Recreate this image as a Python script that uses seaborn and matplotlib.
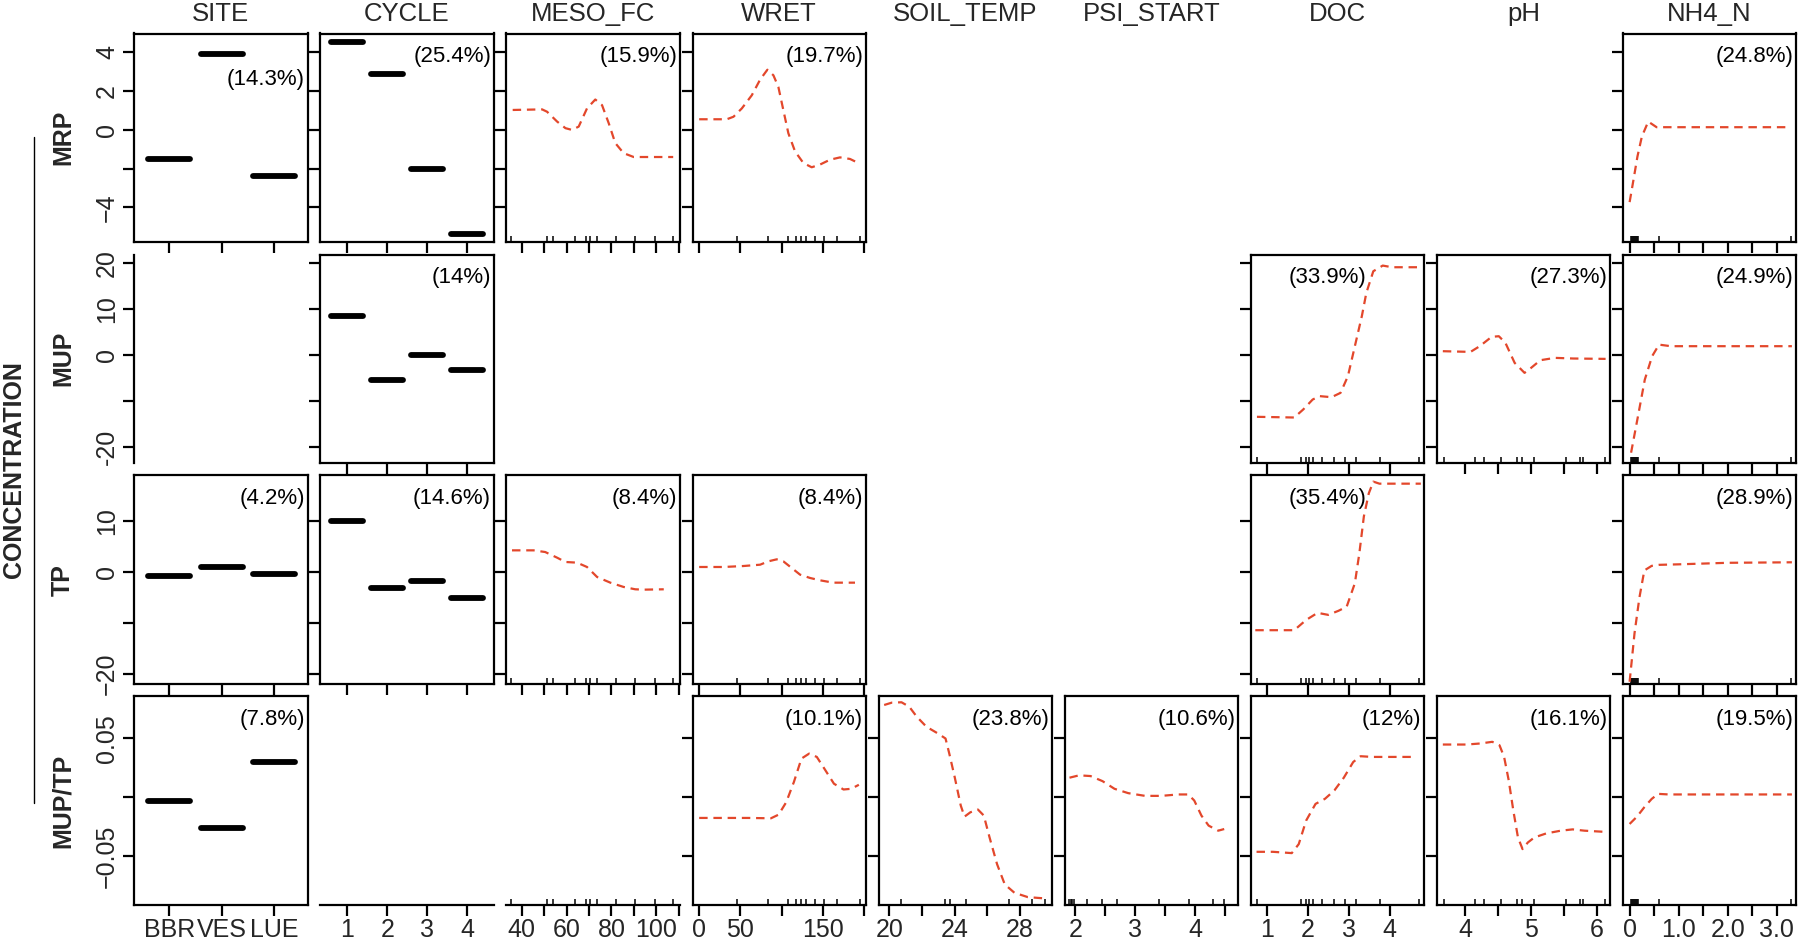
import matplotlib
matplotlib.use("Agg")
import matplotlib.pyplot as plt
from matplotlib.lines import Line2D
import seaborn as sns

sns.set_theme(style="white")
plt.rcParams["font.family"] = ["Liberation Sans", "DejaVu Sans"]

# ── Layout names ──────────────────────────────────────────────────────────────
ROWS = ["MRP", "MUP", "TP", "MUP/TP"]
COLS = ["SITE", "CYCLE", "MESO_FC", "WRET", "SOIL_TEMP", "PSI_START", "DOC", "pH", "NH4_N"]

# ── x axes per column ─────────────────────────────────────────────────────────
SITE_TICKS, SITE_LABELS = [1, 2, 3], ["BBR", "VES", "LUE"]
CYCLE_TICKS, CYCLE_LABELS = [1, 2, 3, 4], ["1", "2", "3", "4"]
MESO_TICKS = [40, 50, 60, 70, 80, 90, 100, 110]
MESO_LABELS = ["40", "", "60", "", "80", "", "100", ""]
WRET_TICKS, WRET_LABELS = [0, 50, 100, 150, 200], ["0", "50", "", "150", ""]
SOIL_TICKS, SOIL_LABELS = [20, 22, 24, 26, 28], ["20", "", "24", "", "28"]
PSI_TICKS, PSI_LABELS = [2, 2.5, 3, 3.5, 4, 4.5], ["2", "", "3", "", "4", ""]
DOC_TICKS, DOC_LABELS = [1, 2, 3, 4], ["1", "2", "3", "4"]
PH_TICKS, PH_LABELS = [4, 4.5, 5, 5.5, 6], ["4", "", "5", "", "6"]
NH4_TICKS = [0, 0.5, 1, 1.5, 2, 2.5, 3]
NH4_LABELS = ["0", "", "1.0", "", "2.0", "", "3.0"]

# deciles of the predictors (rug)
MESO_RUG = [35.3, 51.3, 54, 63.9, 68.8, 70.6, 73.5, 82.1, 90.6, 99.5, 107.5]
WRET_RUG = [0, 46, 83, 108, 117, 123, 129, 140, 151, 167, 195]
SOIL_RUG = [20, 20.7, 22, 23.4, 23.7, 24, 24.7, 26, 27.3, 28.7, 29.5]
PSI_RUG = [1.9, 1.92, 1.95, 1.98, 2.2, 2.45, 2.7, 3.4, 3.9, 4.3, 4.48]
DOC_RUG = [0.75, 1.84, 1.95, 2.03, 2.12, 2.35, 2.63, 2.92, 3.17, 3.77, 4.72]
PH_RUG = [3.68, 4.15, 4.29, 4.54, 4.78, 4.86, 5.04, 5.53, 5.74, 5.79, 6.12]
NH4_RUG = [0.0, 0.02, 0.04, 0.06, 0.08, 0.1, 0.12, 0.15, 0.18, 0.6, 3.3]

# ── y axes per row ────────────────────────────────────────────────────────────
MRP_TICKS, MRP_LABELS = [-4, -2, 0, 2, 4], ["\u22124", "", "0", "2", "4"]
MUP_TICKS, MUP_LABELS = [-20, -10, 0, 10, 20], ["-20", "", "0", "10", "20"]
TP_TICKS, TP_LABELS = [-20, -10, 0, 10], ["\u221220", "", "0", "10"]
RATIO_TICKS, RATIO_LABELS = [-0.05, 0, 0.05], ["\u22120.05", "", "0.05"]

# ── partial dependence values ─────────────────────────────────────────────────
MRP_SITE = [-1.5, 3.9, -2.4]
MRP_CYCLE = [4.54, 2.87, -2.03, -5.4]
MRP_MESO_X = [36.0, 49.1, 51.3, 55.8, 59.5, 62.4, 65.4, 69.1, 72.8, 75.8, 78.8, 81.7, 85.4, 89.9, 107.5]
MRP_MESO_Y = [1.03, 1.06, 0.94, 0.43, 0.09, 0.0, 0.17, 1.11, 1.57, 1.28, 0.34, -0.68, -1.2, -1.4, -1.4]
MRP_WRET_X = [0, 33.5, 41.6, 51.7, 63.8, 73.9, 82.7, 90, 96, 102, 108.1, 116.2, 126.3, 136.4,
              146.5, 158.6, 170.7, 182.8, 193]
MRP_WRET_Y = [0.55, 0.55, 0.68, 1.11, 1.79, 2.6, 3.11, 2.82, 2.22, 1.03, -0.17, -1.11, -1.71, -1.93,
              -1.79, -1.54, -1.42, -1.5, -1.71]
MRP_NH4_X = [0, 0.08, 0.16, 0.25, 0.38, 0.55, 0.76, 3.28]
MRP_NH4_Y = [-3.73, -2.56, -1.37, -0.34, 0.43, 0.14, 0.14, 0.14]

MUP_CYCLE = [8.6, -5.5, 0.0, -3.2]
MUP_DOC_X = [0.76, 1.67, 1.89, 2.12, 2.29, 2.58, 2.80, 2.98, 3.15, 3.32, 3.43, 3.60, 3.83, 4.06, 4.74]
MUP_DOC_Y = [-13.4, -13.55, -11.8, -9.64, -8.9, -9.13, -8.19, -4.57, 1.96, 8.48, 13.55, 18.26, 19.49,
             19.13, 19.13]
MUP_PH_X = [3.66, 4.08, 4.22, 4.40, 4.51, 4.61, 4.75, 4.90, 5.0, 5.14, 5.36, 5.64, 6.13]
MUP_PH_Y = [0.87, 0.72, 1.96, 3.99, 4.13, 2.68, -1.67, -3.84, -2.75, -1.09, -0.58, -0.72, -0.8]
MUP_NH4_X = [0.03, 0.17, 0.31, 0.46, 0.6, 0.84, 3.31]
MUP_NH4_Y = [-21.2, -13.3, -5.3, -0.2, 2.3, 1.96, 1.96]

TP_SITE = [-0.75, 0.96, -0.4]
TP_CYCLE = [10.0, -3.1, -1.76, -5.15]
TP_MESO_X = [35.7, 45.3, 50.5, 55.8, 59.5, 64.7, 69.1, 73.6, 79.5, 85.4, 90.6, 94.3, 103.3]
TP_MESO_Y = [4.24, 4.24, 3.91, 2.8, 1.96, 1.83, 0.98, -0.98, -2.09, -2.93, -3.39, -3.46, -3.39]
TP_WRET_X = [0, 29.5, 53.6, 73.9, 83.9, 94, 102, 112.2, 122.3, 134.4, 146.5, 162.6, 188.9]
TP_WRET_Y = [0.98, 0.98, 1.17, 1.43, 2.09, 2.48, 2.09, 0.78, -0.52, -1.17, -1.63, -2.09, -2.09]
TP_DOC_X = [0.72, 1.67, 1.96, 2.24, 2.5, 2.75, 2.95, 3.15, 3.26, 3.37, 3.49, 3.6, 3.75, 4.76]
TP_DOC_Y = [-11.4, -11.4, -9.4, -8.0, -8.4, -7.6, -6.8, -2.2, 3.7, 10.9, 15.4, 17.7, 17.3, 17.3]
TP_NH4_X = [0.0, 0.1, 0.2, 0.3, 0.45, 0.6, 1.0, 2.0, 3.31]
TP_NH4_Y = [-21.5, -12, -5, 0.3, 1.2, 1.4, 1.5, 1.8, 1.9]

RATIO_SITE = [-0.003, -0.0264, 0.0295]
RATIO_WRET_X = [0, 31.4, 59.2, 87, 96.3, 105.5, 114.8, 124, 133.3, 142.6, 151.8, 163.4, 175, 184.3, 193.6]
RATIO_WRET_Y = [-0.0176, -0.0176, -0.0176, -0.0179, -0.0148, -0.0043, 0.0128, 0.0327, 0.0369, 0.0341,
                0.0241, 0.0114, 0.0065, 0.0071, 0.0105]
RATIO_SOIL_X = [19.69, 20.16, 20.75, 21.22, 21.68, 22.27, 22.97, 23.44, 23.67, 24.0, 24.37, 24.6,
                24.96, 25.42, 25.78, 26.13, 26.59, 27.06, 27.65, 28.47, 29.52]
RATIO_SOIL_Y = [0.0781, 0.0801, 0.0804, 0.0767, 0.0682, 0.0597, 0.054, 0.0497, 0.0369, 0.017, -0.0071,
                -0.0165, -0.0128, -0.0105, -0.0156, -0.0341, -0.0568, -0.0739, -0.081, -0.0847, -0.0858]
RATIO_PSI_X = [1.90, 2.06, 2.25, 2.45, 2.65, 2.88, 3.16, 3.43, 3.71, 3.88, 3.98, 4.10, 4.22, 4.38, 4.48]
RATIO_PSI_Y = [0.0165, 0.0185, 0.0179, 0.0136, 0.0071, 0.0034, 0.0011, 0.0011, 0.0023, 0.0023,
               -0.0028, -0.0156, -0.0241, -0.0284, -0.027]
RATIO_DOC_X = [0.75, 1.15, 1.61, 1.78, 1.96, 2.19, 2.42, 2.65, 2.88, 3.11, 3.29, 3.57, 4.56]
RATIO_DOC_Y = [-0.0463, -0.0463, -0.0474, -0.0398, -0.0199, -0.0057, -0.0014, 0.0057, 0.0165, 0.0298,
               0.0347, 0.0341, 0.0341]
RATIO_PH_X = [3.66, 4.02, 4.23, 4.41, 4.52, 4.59, 4.66, 4.73, 4.80, 4.87, 4.95, 5.05, 5.23, 5.45,
              5.63, 5.81, 6.09]
RATIO_PH_Y = [0.0446, 0.0446, 0.0455, 0.0469, 0.044, 0.0341, 0.0142, -0.0114, -0.0341, -0.044,
              -0.0384, -0.0341, -0.0307, -0.0284, -0.0273, -0.0284, -0.0293]
RATIO_NH4_X = [0.0, 0.15, 0.3, 0.45, 0.58, 0.8, 3.31]
RATIO_NH4_Y = [-0.0227, -0.0165, -0.0085, -0.0015, 0.0028, 0.0023, 0.0023]

# relative influence of each predictor (%)
MRP_PCT = {"SITE": "14.3", "CYCLE": "25.4", "MESO_FC": "15.9", "WRET": "19.7", "NH4_N": "24.8"}
MUP_PCT = {"CYCLE": "14", "DOC": "33.9", "pH": "27.3", "NH4_N": "24.9"}
TP_PCT = {"SITE": "4.2", "CYCLE": "14.6", "MESO_FC": "8.4", "WRET": "8.4", "DOC": "35.4", "NH4_N": "28.9"}
RATIO_PCT = {"SITE": "7.8", "WRET": "10.1", "SOIL_TEMP": "23.8", "PSI_START": "10.6",
             "DOC": "12", "pH": "16.1", "NH4_N": "19.5"}

# ── tables built from the arrays above ────────────────────────────────────────
XAXIS = {
    "SITE": (SITE_TICKS, SITE_LABELS, (0.33, 3.64), None),
    "CYCLE": (CYCLE_TICKS, CYCLE_LABELS, (0.32, 4.67), None),
    "MESO_FC": (MESO_TICKS, MESO_LABELS, (33.2, 110.4), MESO_RUG),
    "WRET": (WRET_TICKS, WRET_LABELS, (-8.1, 202), WRET_RUG),
    "SOIL_TEMP": (SOIL_TICKS, SOIL_LABELS, (19.35, 29.94), SOIL_RUG),
    "PSI_START": (PSI_TICKS, PSI_LABELS, (1.82, 4.71), PSI_RUG),
    "DOC": (DOC_TICKS, DOC_LABELS, (0.61, 4.84), DOC_RUG),
    "pH": (PH_TICKS, PH_LABELS, (3.57, 6.2), PH_RUG),
    "NH4_N": (NH4_TICKS, NH4_LABELS, (-0.135, 3.4), NH4_RUG),
}
YAXIS = {
    "MRP": (MRP_TICKS, MRP_LABELS, (-5.78, 4.98)),
    "MUP": (MUP_TICKS, MUP_LABELS, (-23.4, 21.9)),
    "TP": (TP_TICKS, TP_LABELS, (-21.9, 18.9)),
    "MUP/TP": (RATIO_TICKS, RATIO_LABELS, (-0.0912, 0.0853)),
}
PANELS = {
    ("MRP", "SITE"): MRP_SITE, ("MRP", "CYCLE"): MRP_CYCLE,
    ("MRP", "MESO_FC"): (MRP_MESO_X, MRP_MESO_Y), ("MRP", "WRET"): (MRP_WRET_X, MRP_WRET_Y),
    ("MRP", "NH4_N"): (MRP_NH4_X, MRP_NH4_Y),
    ("MUP", "CYCLE"): MUP_CYCLE, ("MUP", "DOC"): (MUP_DOC_X, MUP_DOC_Y),
    ("MUP", "pH"): (MUP_PH_X, MUP_PH_Y), ("MUP", "NH4_N"): (MUP_NH4_X, MUP_NH4_Y),
    ("TP", "SITE"): TP_SITE, ("TP", "CYCLE"): TP_CYCLE,
    ("TP", "MESO_FC"): (TP_MESO_X, TP_MESO_Y), ("TP", "WRET"): (TP_WRET_X, TP_WRET_Y),
    ("TP", "DOC"): (TP_DOC_X, TP_DOC_Y), ("TP", "NH4_N"): (TP_NH4_X, TP_NH4_Y),
    ("MUP/TP", "SITE"): RATIO_SITE,
    ("MUP/TP", "WRET"): (RATIO_WRET_X, RATIO_WRET_Y), ("MUP/TP", "SOIL_TEMP"): (RATIO_SOIL_X, RATIO_SOIL_Y),
    ("MUP/TP", "PSI_START"): (RATIO_PSI_X, RATIO_PSI_Y), ("MUP/TP", "DOC"): (RATIO_DOC_X, RATIO_DOC_Y),
    ("MUP/TP", "pH"): (RATIO_PH_X, RATIO_PH_Y), ("MUP/TP", "NH4_N"): (RATIO_NH4_X, RATIO_NH4_Y),
}
PCT = {"MRP": MRP_PCT, "MUP": MUP_PCT, "TP": TP_PCT, "MUP/TP": RATIO_PCT}

# ── styling ───────────────────────────────────────────────────────────────────
RED = "#E3472B"
W, H = 1800, 943
LEFT0, COL_PITCH, PANEL_W = 134.2, 186.1, 173.3
TOP0, ROW_PITCH, PANEL_H = 33.5, 221.0, 208.3
TICK_FS, TITLE_FS, PCT_FS, ROW_FS = 18, 18.5, 16, 18
LW = 1.6


def panel_rect(r, c):
    left = LEFT0 + c * COL_PITCH
    top = TOP0 + r * ROW_PITCH
    return [left / W, 1 - (top + PANEL_H) / H, PANEL_W / W, PANEL_H / H]


def setup_x(ax, col, labels):
    ticks, lab, lim, rug = XAXIS[col]
    ax.set_xlim(lim)
    ax.set_xticks(ticks)
    ax.set_xticklabels(lab if labels else [""] * len(ticks))
    ax.tick_params(axis="x", which="major", bottom=True, direction="out", length=8,
                   width=LW, color="black", labelsize=TICK_FS, pad=1.5)
    if rug is not None:
        ax.set_xticks(rug, minor=True)
        ax.tick_params(axis="x", which="minor", bottom=True, direction="in", length=4,
                       width=1.1, color="black")


def setup_y(ax, row, labels):
    ticks, lab, lim = YAXIS[row]
    ax.set_ylim(lim)
    ax.set_yticks(ticks)
    ax.set_yticklabels(lab if labels else [""] * len(ticks))
    ax.tick_params(axis="y", which="major", left=True, direction="out", length=8,
                   width=LW, color="black", labelsize=TICK_FS, pad=3)
    for t in ax.get_yticklabels():
        t.set_rotation(90)
        t.set_va("center")


fig = plt.figure(figsize=(W / 100, H / 100), dpi=100)

for r, row in enumerate(ROWS):
    for c, col in enumerate(COLS):
        key = (row, col)
        spine_only = None
        if key not in PANELS:
            if row == "MUP" and col == "SITE":
                spine_only = "left"
            elif row == "MUP/TP" and col in ("CYCLE", "MESO_FC"):
                spine_only = "bottom"
            else:
                continue

        ax = fig.add_axes(panel_rect(r, c))
        ax.set_facecolor("white")
        for s in ax.spines.values():
            s.set_color("black")
            s.set_linewidth(LW)

        if spine_only == "left":
            for s in ("top", "right", "bottom"):
                ax.spines[s].set_visible(False)
            ax.set_xticks([])
            setup_y(ax, row, labels=True)
            continue
        if spine_only == "bottom":
            for s in ("top", "right", "left"):
                ax.spines[s].set_visible(False)
            ax.set_yticks([])
            setup_x(ax, col, labels=True)
            ax.set_ylim(YAXIS[row][2])
            continue

        data = PANELS[key]
        if col in ("SITE", "CYCLE"):
            pos = XAXIS[col][0]
            ax.hlines(data, [p - 0.4 for p in pos], [p + 0.4 for p in pos],
                      color="black", linewidth=4.2, capstyle="round")
        else:
            sns.lineplot(x=data[0], y=data[1], ax=ax, color=RED, linewidth=LW,
                         linestyle=(0, (3.8, 2.6)), estimator=None, sort=False)

        setup_x(ax, col, labels=(row == "MUP/TP"))
        setup_y(ax, row, labels=(col == "SITE"))
        ax.set_xlabel("")
        ax.set_ylabel("")

        if col in PCT[row]:
            tx, ty = 0.985, 0.89
            if key == ("MRP", "SITE"):
                ty = 0.78
            if col == "DOC" and row in ("MUP", "TP"):
                tx = 0.665
            ax.text(tx, ty, f"({PCT[row][col]}%)", transform=ax.transAxes,
                    ha="right", va="center", fontsize=PCT_FS, color="black")

# column titles
for c, col in enumerate(COLS):
    cx = (LEFT0 + c * COL_PITCH + PANEL_W / 2) / W
    fig.text(cx, 1 - 14 / H, col, ha="center", va="center", fontsize=TITLE_FS)

# row titles
for r, row in enumerate(ROWS):
    cy = 1 - (TOP0 + r * ROW_PITCH + PANEL_H / 2) / H
    fig.text(63 / W, cy, row, rotation=90, ha="center", va="center",
             fontsize=ROW_FS, fontweight="bold")

fig.text(14 / W, 1 - 470 / H, "CONCENTRATION", rotation=90, ha="center", va="center",
         fontsize=18, fontweight="bold")
fig.add_artist(Line2D([34 / W, 34 / W], [1 - 137 / H, 1 - 803 / H], color="black", lw=1.0))

fig.savefig("out.png", dpi=100)
